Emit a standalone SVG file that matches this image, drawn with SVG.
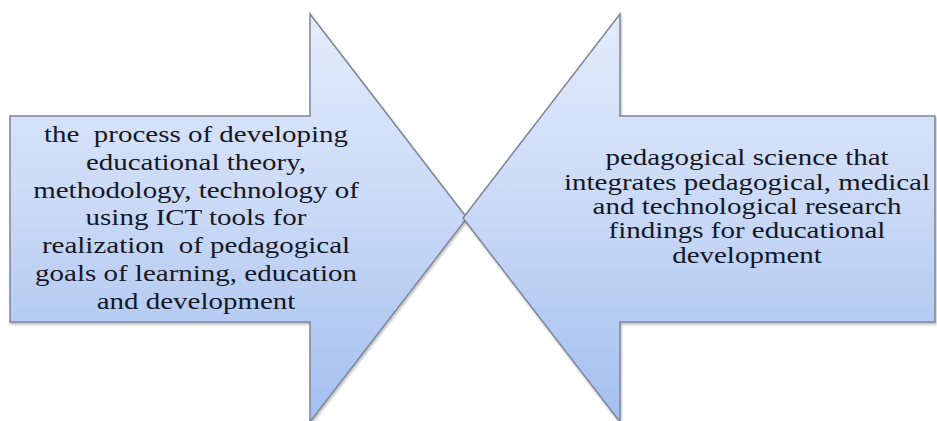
<svg xmlns="http://www.w3.org/2000/svg" width="937" height="421" viewBox="0 0 937 421">
<defs>
<linearGradient id="fillGrad" gradientUnits="userSpaceOnUse" x1="0" y1="14" x2="0" y2="421">
<stop offset="0" stop-color="#e4ecfb"/>
<stop offset="0.5" stop-color="#c8d8f6"/>
<stop offset="1" stop-color="#a4bff0"/>
</linearGradient>
<filter id="shadow" x="-5%" y="-5%" width="110%" height="110%">
<feDropShadow dx="1" dy="2" stdDeviation="1.2" flood-color="#000" flood-opacity="0.25"/>
</filter>
<style>
.arrow { fill: url(#fillGrad); stroke: #7d8798; stroke-width: 1.5; stroke-linejoin: miter; filter: url(#shadow); }
.label { font-family: Liberation Serif, Times New Roman, Tinos, DejaVu Serif, serif; font-size: 23px; fill: #141726; text-anchor: middle; }
</style>
</defs>
<rect width="937" height="421" fill="#ffffff"/>
<g id="left-arrow">
<polygon class="arrow" points="10,116 310,116 310,14 467,218 310,422 310,322 10,322"/>
<g transform="translate(196,0) scale(1.26,1)">
<text class="label" xml:space="preserve"><tspan x="0" y="142">the  process of developing</tspan><tspan x="0" y="170">educational theory,</tspan><tspan x="0" y="198">methodology, technology of</tspan><tspan x="0" y="225">using ICT tools for</tspan><tspan x="0" y="253">realization  of pedagogical</tspan><tspan x="0" y="281">goals of learning, education</tspan><tspan x="0" y="309">and development</tspan></text>
</g>
</g>
<g id="right-arrow">
<polygon class="arrow" points="935,116 620,116 620,14 463,218 620,422 620,322 935,322"/>
<g transform="translate(747,0) scale(1.26,1)">
<text class="label" xml:space="preserve"><tspan x="0" y="165">pedagogical science that</tspan><tspan x="0" y="190">integrates pedagogical, medical</tspan><tspan x="0" y="214">and technological research</tspan><tspan x="0" y="238">findings for educational</tspan><tspan x="0" y="263">development</tspan></text>
</g>
</g>
<g id="connectors"/>
</svg>
